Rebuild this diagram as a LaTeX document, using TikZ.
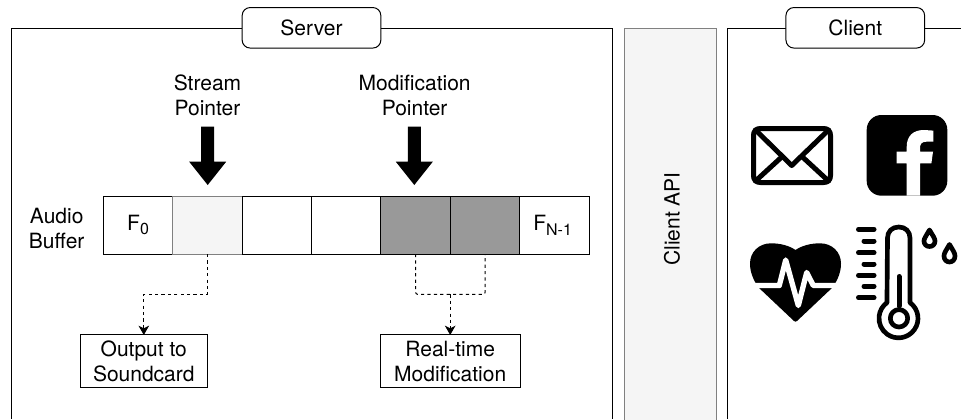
\documentclass[tikz,border=0pt]{standalone}
\usepackage{fontspec}
\setmainfont{TeX Gyre Heros}
\usetikzlibrary{arrows.meta}
\definecolor{apifill}{HTML}{F5F5F5}
\definecolor{apiline}{HTML}{808080}
\definecolor{darkcell}{HTML}{999999}
\newcommand{\subtxt}[1]{\raisebox{-3.6pt}{\fontsize{12pt}{12pt}\selectfont #1}}
\tikzset{
  every node/.style={font=\fontsize{15.75pt}{18.75pt}\selectfont,text=black,inner sep=0pt,outer sep=0pt},
  frameline/.style={draw=black,line width=0.75pt},
  titlebox/.style={draw=black,line width=0.75pt,fill=white,rounded corners=6pt,minimum width=104pt,minimum height=30.4pt},
  cellbox/.style={draw=black,line width=0.75pt,fill=white,minimum width=52pt,minimum height=43.5pt},
  streamcell/.style={cellbox,draw=apiline,fill=apifill},
  modcell/.style={cellbox,fill=darkcell},
  outbox/.style={draw=black,line width=0.75pt,fill=white,align=center,minimum height=39.2pt},
  lbl/.style={align=center},
  dashlink/.style={draw=black,line width=0.75pt,dash pattern=on 2.4pt off 2.4pt},
  dasharrow/.style={dashlink,-{Stealth[length=7pt,width=8pt,inset=2pt]}},
  iconline/.style={draw=black,line width=3.75pt,line cap=round,line join=round},
  thinicon/.style={draw=black,line width=3.5pt,line join=round}
}
\begin{document}
\begin{tikzpicture}[x=0.75pt,y=-0.75pt]
\useasboundingbox (0,0) rectangle (961,419);
% frames
\draw[frameline] (11,419) -- (11,28.5) -- (612.5,28.5) -- (612.5,419);
\draw[frameline] (727.5,419) -- (727.5,28.5) -- (961,28.5);
\node[titlebox] (server) at (311.5,27.8) {Server};
\node[titlebox] (client) at (855.3,27.8) {Client};
% client api
\node[draw=apiline,line width=0.75pt,fill=apifill,minimum width=69.5pt,minimum height=320pt,anchor=north] (api) at (670.4,28.5) {};
\node[rotate=90] (apitext) at (672,219) {Client API};
% labels
\node[lbl] (stream) at (207.5,95.5) {Stream\\Pointer};
\node[lbl] (modp) at (414.6,95.5) {Modification\\Pointer};
\node[lbl] (audio) at (56.7,228.5) {Audio\\Buffer};
% thick arrows
\fill (201.2,126.7) -- (214.2,126.7) -- (214.2,161.7) -- (226.2,161.7) -- (207.7,185) -- (189.2,161.7) -- (201.2,161.7) -- cycle;
\fill (407.8,126.7) -- (420.8,126.7) -- (420.8,161.7) -- (432.8,161.7) -- (414.3,185) -- (395.8,161.7) -- (407.8,161.7) -- cycle;
% buffer
\node[cellbox] (c0) at (138.1,225) {F\subtxt{0}};
\node[streamcell] (c1) at (207.4,225) {};
\node[cellbox] (c2) at (276.8,225) {};
\node[cellbox] (c3) at (346.3,225) {};
\node[modcell] (c4) at (415.6,225) {};
\node[modcell] (c5) at (485.1,225) {};
\node[cellbox] (c6) at (554.6,225) {F\subtxt{N-1}\hspace*{3pt}};
% outputs
\node[outbox,minimum width=95.6pt] (out) at (143.8,361.1) {Output to\\Soundcard};
\node[outbox,minimum width=104.7pt] (rt) at (450.2,361.1) {Real-time\\Modification};
% connectors
\coordinate (j1) at (c1.south |- 0,294.3);
\coordinate (j2) at (out.north |- 0,294.3);
\coordinate (j3) at (c4.south |- 0,294.3);
\coordinate (j4) at (c5.south |- 0,294.3);
\coordinate (j5) at (rt.north |- 0,294.3);
\draw[dasharrow] (c1.south) -- (j1) -- (j2) -- (out.north);
\draw[dashlink,rounded corners=1.5pt] (c4.south) -- (j3) -- (j4) -- (c5.south);
\draw[dasharrow] (j5) -- (rt.north);
% envelope
\draw[iconline] (760.5,128.5) -- (823.5,128.5) .. controls (828,128.5) and (830.5,131) .. (830.5,135.5) -- (830.5,175.5) .. controls (830.5,180) and (828,182.5) .. (823.5,182.5) -- (760.5,182.5) .. controls (756,182.5) and (753.5,180) .. (753.5,175.5) -- (753.5,135.5) .. controls (753.5,131) and (756,128.5) .. (760.5,128.5) -- cycle;
\draw[iconline] (755.5,130) -- (791.7,165.5) -- (828.5,130);
\draw[iconline] (755.5,181) -- (781.7,157);
\draw[iconline] (802.5,157) -- (828.5,181);
% facebook
\fill[rounded corners=11pt] (866.7,115) rectangle (947.3,195.7);
\fill[white] (906.7,195.7) -- (906.7,163.3) -- (896.7,163.3) -- (896.7,151.7) -- (906.7,151.7) -- (906.7,147) .. controls (906.7,136) and (913,130) .. (924,130) -- (933.3,130.6) -- (933.3,141.7) -- (926.5,141.7) .. controls (921.5,141.7) and (920,144) .. (920,148) -- (920,151.7) -- (933,151.7) -- (931.4,163.3) -- (920,163.3) -- (920,195.7) -- cycle;
% heart
\fill (795.5,250) .. controls (802,245.5) and (811,243.3) .. (820,243.3) .. controls (832,243.3) and (841,252) .. (841,263.5) .. controls (841,272) and (838,279) .. (833,287) -- (797,321) -- (795.5,321.7) -- (794,321) -- (758,287) .. controls (753,279) and (750,272) .. (750,263.5) .. controls (750,252) and (759,243.3) .. (771,243.3) .. controls (780,243.3) and (789,245.5) .. (795.5,250) -- cycle;
\draw[white,line width=4pt,line join=round] (748,285.5) -- (779.3,285.5) -- (785.7,260) -- (798.3,305.5) -- (806.7,272.5) -- (813.3,285.5) -- (843,285.5);
% thermometer
\foreach \yy/\xx in {229.3/858.5,241/864,252.7/858.5,264/864,275.3/858.5,286.3/864,297.7/858.5}
  \draw[iconline] (\xx,\yy) -- (874,\yy);
\draw[thinicon] (910,302.6) arc[start angle=-53.8,end angle=233.8,radius=19.5] -- (887.5,238) .. controls (887.5,231.5) and (892,227) .. (898.75,227) .. controls (905.5,227) and (910,231.5) .. (910,238) -- cycle;
\draw[thinicon] (899,318.3) circle[radius=8.7];
\draw[iconline] (899,276.5) -- (899,306);
% drops
\draw[thinicon] (929.5,230) .. controls (926,236) and (924,238.5) .. (924,241) .. controls (924,244.3) and (926.3,246.5) .. (929.5,246.5) .. controls (932.7,246.5) and (935,244.3) .. (935,241) .. controls (935,238.5) and (933,236) .. (929.5,230) -- cycle;
\draw[thinicon] (949.5,244.5) .. controls (946,250.5) and (944,253) .. (944,256) .. controls (944,259.5) and (946.3,262) .. (949.5,262) .. controls (952.7,262) and (955,259.5) .. (955,256) .. controls (955,253) and (953,250.5) .. (949.5,244.5) -- cycle;
\end{tikzpicture}
\end{document}
